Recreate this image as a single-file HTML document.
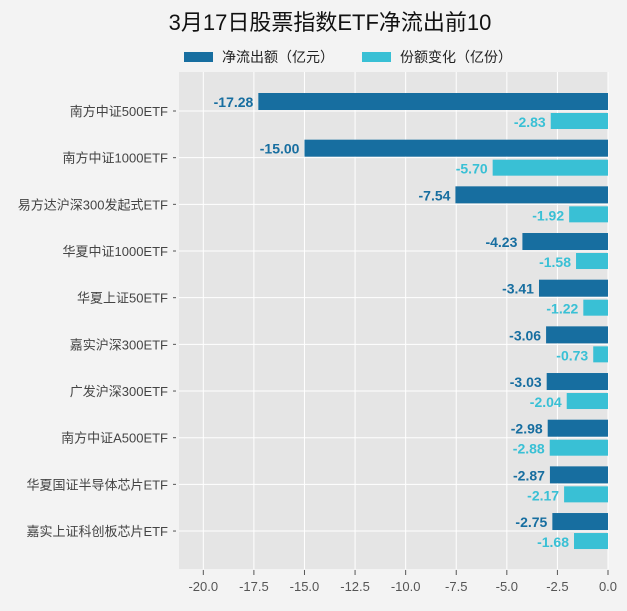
<!DOCTYPE html>
<html><head><meta charset="utf-8"><style>
body{margin:0;background:#f3f3f3;}
svg text{font-family:"Liberation Sans","Noto Sans CJK SC",sans-serif;}
</style></head><body>
<svg width="627" height="606" xmlns="http://www.w3.org/2000/svg">
<rect width="627" height="606" fill="#f3f3f3"/>
<text x="330" y="30" font-size="22" text-anchor="middle" fill="#111">3月17日股票指数ETF净流出前10</text>
<rect x="184" y="52" width="29" height="10" fill="#176ea0"/>
<text x="222" y="62" font-size="14" fill="#222">净流出额（亿元）</text>
<rect x="362" y="52" width="29" height="10" fill="#39c0d5"/>
<text x="400" y="62" font-size="14" fill="#222">份额变化（亿份）</text>
<rect x="179" y="72" width="429" height="497" fill="#e5e5e5"/>
<g id="g"></g>
</svg>
<script>
const data=[["南方中证500ETF",-17.28,-2.83],["南方中证1000ETF",-15.00,-5.70],["易方达沪深300发起式ETF",-7.54,-1.92],["华夏中证1000ETF",-4.23,-1.58],["华夏上证50ETF",-3.41,-1.22],["嘉实沪深300ETF",-3.06,-0.73],["广发沪深300ETF",-3.03,-2.04],["南方中证A500ETF",-2.98,-2.88],["华夏国证半导体芯片ETF",-2.87,-2.17],["嘉实上证科创板芯片ETF",-2.75,-1.68]];
const X=v=>608+v*20.235;let s="";
for(let i=0;i<=8;i++){const v=-20+i*2.5,x=X(v);s+=`<line x1="${x}" y1="72" x2="${x}" y2="569" stroke="#fff" stroke-width="1"/><line x1="${x}" y1="570" x2="${x}" y2="575" stroke="#555"/><text x="${x}" y="591" font-size="13" fill="#555" text-anchor="middle">${v.toFixed(1)}</text>`;}
data.forEach((d,i)=>{const c=111+i*46.67;s+=`<line x1="179" y1="${c}" x2="608" y2="${c}" stroke="#fff"/><line x1="173" y1="${c}" x2="176" y2="${c}" stroke="#555"/><text x="168" y="${c+5}" font-size="13" fill="#444" text-anchor="end">${d[0]}</text>`;
const x1=X(d[1]),x2=X(d[2]);
s+=`<rect x="${x1}" y="${c-18}" width="${608-x1}" height="17" fill="#176ea0"/><text x="${x1-5}" y="${c-4}" font-size="14" font-weight="bold" fill="#176ea0" text-anchor="end">${d[1].toFixed(2)}</text>`;
s+=`<rect x="${x2}" y="${c+2}" width="${608-x2}" height="16" fill="#39c0d5"/><text x="${x2-5}" y="${c+16}" font-size="14" font-weight="bold" fill="#39c0d5" text-anchor="end">${d[2].toFixed(2)}</text>`;});
document.getElementById("g").innerHTML=s;
</script>
</body></html>
